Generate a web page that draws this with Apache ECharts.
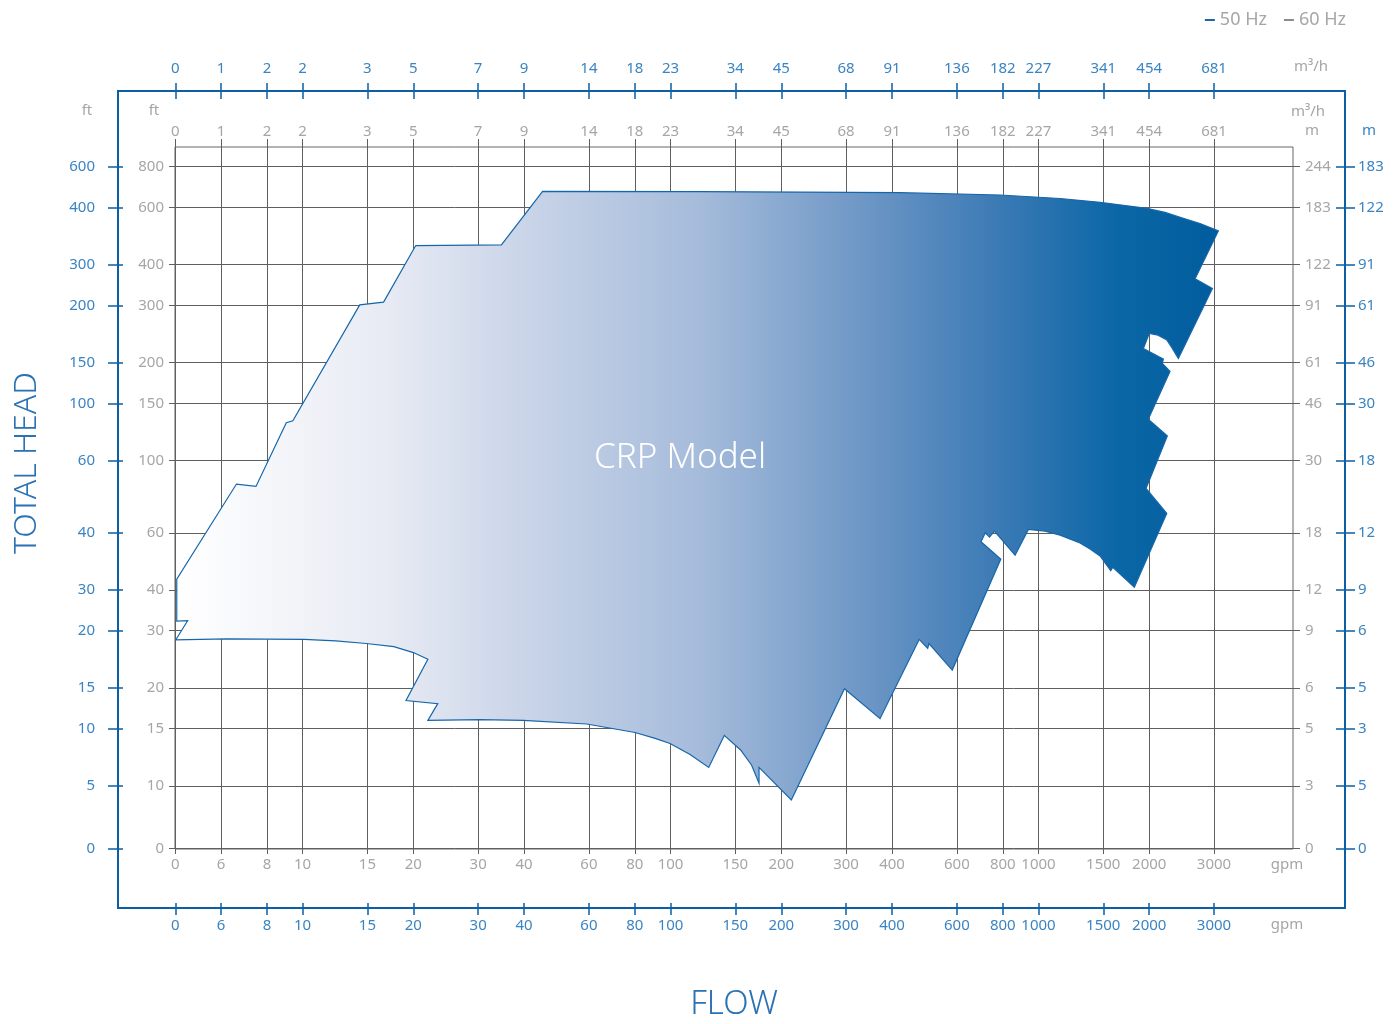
<!DOCTYPE html>
<html>
<head>
<meta charset="utf-8">
<script src="https://cdn.jsdelivr.net/npm/echarts@6/dist/echarts.min.js"></script>
<style>
html,body{margin:0;padding:0;background:#fff;}
#chart{width:1399px;height:1024px;}
</style>
</head>
<body>
<div id="chart"></div>
<script>
// ---- Data ----
// x axis ticks (gpm) – the first tick is the chart origin labelled "0"
const gpmTicks = [4.51, 6, 8, 10, 15, 20, 30, 40, 60, 80, 100, 150, 200, 300, 400, 600, 800, 1000, 1500, 2000, 3000];
const gpmLabels = ['0','6','8','10','15','20','30','40','60','80','100','150','200','300','400','600','800','1000','1500','2000','3000'];
const m3hLabels = ['0','1','2','2','3','5','7','9','14','18','23','34','45','68','91','136','182','227','341','454','681'];
// y axis ticks (ft) – the first tick is the origin labelled "0"
const ftTicks = [6.42, 10, 15, 20, 30, 40, 60, 100, 150, 200, 300, 400, 600, 800];
const ftInnerLabels = ['0','10','15','20','30','40','60','100','150','200','300','400','600','800'];
const ftOuterLabels = ['0','5','10','15','20','30','40','60','100','150','200','300','400','600'];
const mInnerLabels = ['0','3','5','6','9','12','18','30','46','61','91','122','183','244'];
const mOuterLabels = ['0','5','3','5','6','9','12','18','30','46','61','91','122','183'];

// CRP model coverage envelope (flow in gpm, head in ft)
const flowGpm = [4.52, 4.87, 4.55, 4.55, 6.61, 7.47, 9.03, 9.41, 14.3, 16.6, 20.3, 34.7, 44.9, 120, 421, 786, 1145, 1470, 1969, 2208, 2476, 2749, 3083, 2665, 2970, 2400, 2307, 2232, 2113, 2001, 1928, 2185, 2171, 2278, 1988, 2240, 1960, 2232, 1822, 1592, 1572, 1470, 1381, 1297, 1145, 1042, 939, 864, 759, 736, 717, 698, 790, 583, 504, 500, 474, 371, 297, 213, 174, 174, 166, 155, 140, 127, 113, 99.7, 90.8, 80.1, 59.2, 39.8, 30.4, 21.9, 23.3, 19.1, 21.9, 20.0, 17.7, 14.9, 12.3, 10.1, 6.23];
const headFt = [28.1, 32.2, 32.1, 43.2, 84.7, 83.3, 130.7, 132.6, 301, 307, 458, 460, 672, 671, 666, 655, 639, 622, 596, 579, 555, 535, 508, 362, 338, 206, 222, 235, 243, 246, 221, 205, 199, 188, 134, 119, 82.1, 68.8, 40.8, 47.0, 45.9, 50.9, 53.5, 55.8, 59.0, 60.7, 61.4, 51.2, 60.7, 58.2, 60.0, 56.3, 49.8, 22.7, 27.4, 26.5, 28.2, 16.1, 19.9, 9.05, 11.4, 10.2, 11.6, 12.9, 14.3, 11.4, 12.5, 13.5, 14.0, 14.6, 15.5, 15.9, 16.0, 15.9, 17.9, 18.3, 24.5, 25.7, 26.8, 27.4, 27.9, 28.2, 28.3];

const modelName = 'CRP Model';

// ---- Styling ----
const FONT = 'Noto Sans';
const BLUE = '#0b5fa5';
const BLUE_TXT = '#3a84c2';
const GREY_TXT = '#a6a6a6';
const GRID = '#5f5f5f';
const X_MIN = 4.5, X_MAX = 4918;
const Y_MIN = 6.4, Y_MAX = 920;

function lookup(ticks, labels) {
  return function (v) {
    for (let i = 0; i < ticks.length; i++) {
      if (Math.abs(ticks[i] - v) / ticks[i] < 0.01) return labels[i];
    }
    return '';
  };
}

function xAxis(pos, offset, labels, color, tickLen, tickColor, margin, split) {
  return {
    type: 'log', logBase: 10, position: pos, offset: offset, min: X_MIN, max: X_MAX,
    axisLine: { show: false },
    axisTick: { show: true, length: tickLen, customValues: gpmTicks, lineStyle: { color: tickColor, width: tickColor === BLUE ? 1.5 : 1 } },
    axisLabel: { customValues: gpmTicks, formatter: lookup(gpmTicks, labels), color: color, fontSize: 15, fontFamily: FONT, margin: margin },
    splitLine: { show: split, lineStyle: { color: GRID, width: 1 } },
    minorTick: { show: false }, minorSplitLine: { show: false }
  };
}
function yAxis(pos, offset, labels, color, tickLen, tickColor, margin, split) {
  return {
    type: 'log', logBase: 10, position: pos, offset: offset, min: Y_MIN, max: Y_MAX,
    axisLine: { show: false },
    axisTick: { show: true, length: tickLen, customValues: ftTicks, lineStyle: { color: tickColor, width: tickColor === BLUE ? 1.5 : 1 } },
    axisLabel: { customValues: ftTicks, formatter: lookup(ftTicks, labels), color: color, fontSize: 15, fontFamily: FONT, margin: margin },
    splitLine: { show: split, lineStyle: { color: GRID, width: 1 } },
    minorTick: { show: false }, minorSplitLine: { show: false }
  };
}

const chart = echarts.init(document.getElementById('chart'), null, { renderer: 'canvas' });

const gradientFill = {
  type: 'linear', x: 0, y: 0, x2: 1, y2: 0,
  colorStops: [
    { offset: 0, color: '#ffffff' },
    { offset: 0.2, color: '#e8ebf4' },
    { offset: 0.35, color: '#c6d2e7' },
    { offset: 0.5, color: '#a6bcdb' },
    { offset: 0.65, color: '#7199c7' },
    { offset: 0.78, color: '#3f7cb6' },
    { offset: 0.9, color: '#0c67a7' },
    { offset: 1, color: '#005c9c' }
  ]
};

const option = {
  backgroundColor: '#ffffff',
  animation: false,
  textStyle: { fontFamily: FONT },
  grid: { left: 175, top: 147, right: 106, bottom: 175, show: true, borderColor: '#666', borderWidth: 1, backgroundColor: 'transparent' },
  legend: {
    data: ['50 Hz', '60 Hz'], right: 48, top: 6, icon: 'rect', itemWidth: 10, itemHeight: 2, itemGap: 17,
    textStyle: { color: GREY_TXT, fontSize: 18, fontFamily: FONT }
  },
  xAxis: [
    xAxis('bottom', 0, gpmLabels, GREY_TXT, 5, GRID, 8, true),
    xAxis('top', 0, m3hLabels, GREY_TXT, 8, GRID, 8, false),
    xAxis('bottom', 54, gpmLabels, BLUE_TXT, 12, BLUE, 15, false),
    xAxis('top', 48, m3hLabels, BLUE_TXT, 16, BLUE, 23, false)
  ],
  yAxis: [
    yAxis('left', 0, ftInnerLabels, GREY_TXT, 6, GRID, 11, true),
    yAxis('left', 52, ftOuterLabels, BLUE_TXT, 15, BLUE, 28, false),
    yAxis('right', 0, mInnerLabels, GREY_TXT, 7, GRID, 12, false),
    yAxis('right', 43, mOuterLabels, BLUE_TXT, 19, BLUE, 22, false)
  ],
  series: [
    {
      type: 'custom', name: modelName, xAxisIndex: 0, yAxisIndex: 0, silent: true,
      data: flowGpm.map((f, i) => [f, headFt[i]]),
      renderItem: function (params, api) {
        if (params.dataIndex !== 0) return null;
        const pts = flowGpm.map((f, i) => api.coord([f, headFt[i]]));
        return {
          type: 'group',
          children: [
            { type: 'polygon', shape: { points: pts }, style: { fill: gradientFill, stroke: '#1666aa', lineWidth: 1.2 } }
          ]
        };
      }
    },
    { type: 'line', name: '50 Hz', data: [], color: '#1a66a8', xAxisIndex: 0, yAxisIndex: 0 },
    { type: 'line', name: '60 Hz', data: [], color: '#8c8c8c', xAxisIndex: 0, yAxisIndex: 0 }
  ],
  graphic: [
    { type: 'rect', shape: { x: 118, y: 91, width: 1227, height: 817 }, style: { fill: 'none', stroke: BLUE, lineWidth: 2 }, z: 10 },
    { type: 'text', x: 680, y: 458, z: 20, style: { text: modelName, fill: '#ffffff', font: '300 35px "Noto Sans"', align: 'center', verticalAlign: 'middle' } },
    { type: 'text', x: 27, y: 463, rotation: Math.PI / 2, z: 20, style: { text: 'TOTAL HEAD', fill: '#2a72b4', font: '300 32px "Noto Sans"', align: 'center', verticalAlign: 'middle' } },
    { type: 'text', x: 734, y: 1005, z: 20, style: { text: 'FLOW', fill: '#2a72b4', font: '300 33px "Noto Sans"', align: 'center', verticalAlign: 'middle' } },
    { type: 'text', x: 87, y: 111, style: { text: 'ft', fill: GREY_TXT, font: '15px "Noto Sans"', align: 'center', verticalAlign: 'middle' } },
    { type: 'text', x: 154, y: 111, style: { text: 'ft', fill: GREY_TXT, font: '15px "Noto Sans"', align: 'center', verticalAlign: 'middle' } },
    { type: 'text', x: 1311, y: 67, style: { text: 'm³/h', fill: GREY_TXT, font: '15px "Noto Sans"', align: 'center', verticalAlign: 'middle' } },
    { type: 'text', x: 1308, y: 112, style: { text: 'm³/h', fill: GREY_TXT, font: '15px "Noto Sans"', align: 'center', verticalAlign: 'middle' } },
    { type: 'text', x: 1312, y: 131, style: { text: 'm', fill: GREY_TXT, font: '15px "Noto Sans"', align: 'center', verticalAlign: 'middle' } },
    { type: 'text', x: 1369, y: 131, style: { text: 'm', fill: BLUE_TXT, font: '15px "Noto Sans"', align: 'center', verticalAlign: 'middle' } },
    { type: 'text', x: 1287, y: 865, style: { text: 'gpm', fill: GREY_TXT, font: '15px "Noto Sans"', align: 'center', verticalAlign: 'middle' } },
    { type: 'text', x: 1287, y: 925, style: { text: 'gpm', fill: GREY_TXT, font: '15px "Noto Sans"', align: 'center', verticalAlign: 'middle' } }
  ]
};
chart.setOption(option);
</script>
</body>
</html>
